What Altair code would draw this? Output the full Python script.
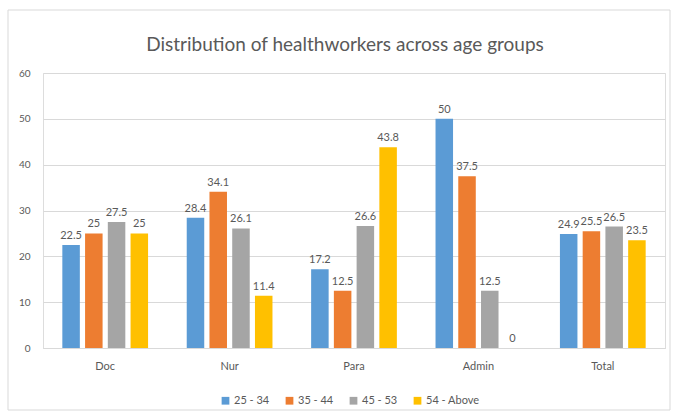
import altair as alt
import pandas as pd

title_text = "Distribution of healthworkers across age groups"
categories = ["Doc", "Nur", "Para", "Admin", "Total"]
age_groups = ["25 - 34", "35 - 44", "45 - 53", "54 - Above"]
v_25_34 = [22.5, 28.4, 17.2, 50, 24.9]
v_35_44 = [25, 34.1, 12.5, 37.5, 25.5]
v_45_53 = [27.5, 26.1, 26.6, 12.5, 26.5]
v_54_up = [25, 11.4, 43.8, 0, 23.5]
colors = ["#5B9BD5", "#ED7D31", "#A5A5A5", "#FFC000"]

rows = []
for g, vals in zip(age_groups, [v_25_34, v_35_44, v_45_53, v_54_up]):
    for c, v in zip(categories, vals):
        rows.append({"cat": c, "grp": g, "val": v, "lbl": f"{v:g}"})
df = pd.DataFrame(rows)

FONT = "Lato"
TXT = "#595959"

x = alt.X("cat:N", sort=categories, title=None,
          scale=alt.Scale(paddingInner=0.0, paddingOuter=0.0),
          axis=alt.Axis(labelAngle=0, ticks=False, labelPadding=12, labelFontSize=11,
                        labelColor=TXT, labelFont=FONT, domainColor="#d9d9d9", grid=False))
xo = alt.XOffset("grp:N", sort=age_groups,
                 scale=alt.Scale(paddingInner=0.23, paddingOuter=0.85))
y = alt.Y("val:Q", title=None, scale=alt.Scale(domain=[0, 60]),
          axis=alt.Axis(values=[0, 10, 20, 30, 40, 50, 60], ticks=False, domain=False,
                        labelPadding=13, labelFontSize=10, labelColor=TXT, labelFont=FONT,
                        gridColor="#d9d9d9"))
color = alt.Color("grp:N", sort=age_groups, title=None,
                  scale=alt.Scale(domain=age_groups, range=colors),
                  legend=alt.Legend(orient="none", legendX=177, legendY=322, direction="horizontal",
                                    symbolType="square", symbolSize=60, symbolStrokeWidth=0,
                                    labelFontSize=11, labelColor=TXT, labelFont=FONT,
                                    columnPadding=14, labelOffset=3))

bars = alt.Chart(df).mark_bar().encode(x=x, xOffset=xo, y=y, color=color)
labels = alt.Chart(df).mark_text(dy=-9, fontSize=11, color=TXT, font=FONT).encode(
    x=x, xOffset=xo, y=y, text="lbl:N")

one = pd.DataFrame({"t": [title_text]})
frame = alt.Chart(one).mark_rect(fill=None, stroke="#d9d9d9", strokeWidth=1).encode(
    x=alt.value(-35), x2=alt.value(627), y=alt.value(-63), y2=alt.value(337))
title = alt.Chart(one).mark_text(fontSize=19, font=FONT, color=TXT, baseline="middle", align="center").encode(
    x=alt.value(302), y=alt.value(-28), text="t:N")

chart = alt.layer(frame, title, bars, labels).properties(
    width=622, height=275,
    padding={"left": 43, "top": 73, "right": 11, "bottom": 67},
    autosize=alt.AutoSizeParams(type="none"),
).configure_view(stroke=None).configure(background="white")

chart.save("out.html", embed_options={"renderer": "svg", "actions": False})
